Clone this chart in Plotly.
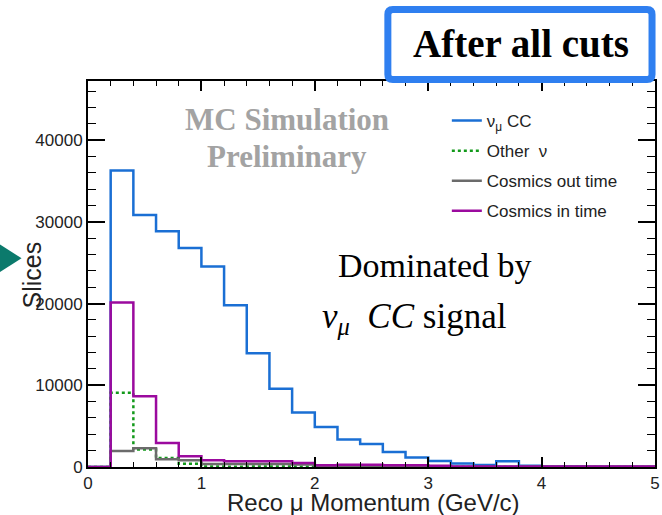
import plotly.graph_objects as go

# ---------------- data ----------------
bin_edges = [round(0.2 * i, 1) for i in range(26)]  # 0.0 ... 5.0 GeV/c
numu_cc = [0, 36280, 30840, 28840, 26800, 24540, 19800, 13910, 9570, 6670,
           4910, 3360, 2830, 1840, 1150, 740, 420, 250, 700, 150,
           60, 50, 40, 30, 20]
other_nu = [0, 9080, 2130, 1100, 410, 60, 40, 50, 50, 40,
            30, 20, 10, 5, 5, 0, 0, 0, 0, 0,
            0, 0, 0, 0, 0]
cosmics_out = [0, 1960, 2300, 940, 820, 380, 380, 380, 380, 300,
               100, 100, 100, 60, 60, 50, 40, 40, 40, 30,
               30, 30, 30, 30, 30]
cosmics_in = [0, 20120, 8670, 2950, 1310, 820, 700, 700, 700, 500,
              200, 290, 290, 200, 200, 150, 50, 50, 50, 50,
              50, 50, 50, 50, 50]
series_names = ["ν<sub>μ</sub> CC", "Other  ν", "Cosmics out time", "Cosmics in time"]
series_colors = ["#1a6fd4", "#12991a", "#6b6b6b", "#9b0a9e"]
series_dash = ["solid", "dot", "solid", "solid"]

# ---------------- geometry helpers ----------------
W, H = 662, 515
L, R, T, B = 88, 2, 81, 48
PW, PH = W - L - R, H - T - B


def px(xp):
    return (xp - L) / PW


def py(yp):
    return (H - B - yp) / PH


fig = go.Figure()
for vals, name, col, dash in zip([numu_cc, other_nu, cosmics_out, cosmics_in],
                                 series_names, series_colors, series_dash):
    xs = bin_edges[:-1] + [bin_edges[-1]]
    ys = vals + [vals[-1]]
    fig.add_trace(go.Scatter(x=xs, y=ys, mode="lines", name=name,
                             line=dict(shape="hv", color=col, width=2.5, dash=dash),
                             legendgroup=name))

axis_font = dict(family="Liberation Sans, Arial", size=17, color="#222222")
fig.update_xaxes(range=[0, 5], dtick=1, ticks="inside", ticklen=10, tickwidth=1.5,
                 tickcolor="black", showline=True, linewidth=2, linecolor="black",
                 mirror="ticks", showgrid=False, zeroline=False, tickfont=axis_font,
                 tickformat="d", ticklabeloverflow="allow",
                 minor=dict(dtick=0.2, ticks="inside", ticklen=5, tickwidth=1.2,
                            tickcolor="black", showgrid=False))
fig.update_yaxes(range=[0, 47240], dtick=10000, ticks="inside", ticklen=17, tickwidth=1.5,
                 tickcolor="black", showline=True, linewidth=2, linecolor="black",
                 mirror="ticks", showgrid=False, zeroline=False, tickfont=axis_font,
                 tickformat="d",
                 minor=dict(dtick=2000, ticks="inside", ticklen=8, tickwidth=1.2,
                            tickcolor="black", showgrid=False))

# title box with rounded corners
x0, x1, y0, y1 = 390.5, 657, 9.5, 79.5
r = 5
rx, ry = r / PW, r / PH
X0, X1, Y0, Y1 = px(x0), px(x1), py(y0), py(y1)
path = (f"M{X0+rx},{Y0} L{X1-rx},{Y0} Q{X1},{Y0} {X1},{Y0-ry} "
        f"L{X1},{Y1+ry} Q{X1},{Y1} {X1-rx},{Y1} L{X0+rx},{Y1} Q{X0},{Y1} {X0},{Y1+ry} "
        f"L{X0},{Y0-ry} Q{X0},{Y0} {X0+rx},{Y0} Z")
fig.add_shape(type="path", path=path, xref="paper", yref="paper",
              line=dict(color="#2f7ff0", width=7), fillcolor="white", layer="above")

# arrow triangle on the left
tri = f"M{px(-3)},{py(243)} L{px(21)},{py(258.3)} L{px(-3)},{py(273.5)} Z"
fig.add_shape(type="path", path=tri, xref="paper", yref="paper",
              line=dict(width=0), fillcolor="#0b7a6c", layer="above")

serif = "Liberation Serif, Times New Roman, serif"
sans = "Liberation Sans, Arial"
ann = [
    dict(text="<b>After all cuts</b>", x=px(525), y=py(43), font=dict(family=serif, size=39, color="black"),
         xanchor="center", yanchor="middle"),
    dict(text="<b>MC Simulation</b>", x=px(289), y=py(119), font=dict(family=serif, size=31, color="#a3a3a3"),
         xanchor="center", yanchor="middle"),
    dict(text="<b>Preliminary</b>", x=px(289), y=py(156), font=dict(family=serif, size=31, color="#a3a3a3"),
         xanchor="center", yanchor="middle"),
    dict(text="Dominated by", x=px(338), y=py(265), font=dict(family=serif, size=34, color="black"),
         xanchor="left", yanchor="middle"),
    dict(text="<i>ν</i><sub><i>μ</i></sub>\u00a0\u00a0<i>CC</i>\u00a0signal", x=px(322), y=py(318),
         font=dict(family=serif, size=35, color="black"), xanchor="left", yanchor="middle"),
    dict(text="Slices", x=px(32), y=py(275), textangle=-90,
         font=dict(family=sans, size=25, color="#222222"),
         xanchor="center", yanchor="middle"),
    dict(text="Reco μ Momentum (GeV/c)", x=px(376), y=py(503),
         font=dict(family=sans, size=24, color="#222222"),
         xanchor="center", yanchor="middle"),
]
for a in ann:
    a.update(xref="paper", yref="paper", showarrow=False)
fig.update_layout(annotations=ann)

fig.update_layout(
    width=W, height=H, margin=dict(l=L, r=R, t=T, b=B),
    plot_bgcolor="white", paper_bgcolor="white",
    showlegend=True,
    legend=dict(x=px(450), y=py(103), xanchor="left", yanchor="top",
                bgcolor="rgba(0,0,0,0)", font=dict(family=sans, size=17, color="#222222"),
                tracegroupgap=5, itemwidth=30, traceorder="grouped"),
)

fig.write_html("out.html")
